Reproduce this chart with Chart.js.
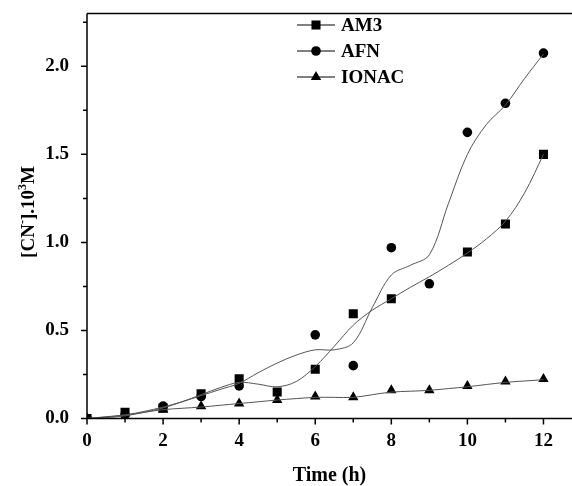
<!DOCTYPE html>
<html>
<head>
<meta charset="utf-8">
<script src="https://cdn.jsdelivr.net/npm/chart.js@4.4.1/dist/chart.umd.min.js"></script>
<style>
  html, body { margin: 0; padding: 0; background: #fff; }
</style>
</head>
<body>
<canvas id="cn-chart" width="572" height="486"></canvas>
<script>
// measured points (time in h, [CN-] x 10^3 M)
const time = [0, 1, 2, 3, 4, 5, 6, 7, 8, 9, 10, 11, 12];
const am3 = [0.00, 0.035, 0.06, 0.14, 0.225, 0.15, 0.28, 0.595, 0.68, null, 0.945, 1.105, 1.50];
const afn = [0.00, 0.02, 0.07, 0.125, 0.185, null, 0.475, 0.30, 0.97, 0.765, 1.625, 1.79, 2.075];
const ionac = [0.00, 0.01, 0.05, 0.07, 0.085, 0.105, 0.125, 0.12, 0.16, 0.16, 0.185, 0.21, 0.225];

// fitted curves every half hour
const curveTime = [0, 0.5, 1, 1.5, 2, 2.5, 3, 3.5, 4, 4.5, 5, 5.5, 6, 6.5, 7, 7.5, 8, 8.5, 9, 9.5, 10, 10.5, 11, 11.5, 12];
const am3Curve = [0, 0.005, 0.015, 0.035, 0.06, 0.095, 0.135, 0.175, 0.205, 0.195, 0.18, 0.21, 0.295, 0.41, 0.53, 0.615, 0.68, 0.745, 0.805, 0.87, 0.94, 1.02, 1.12, 1.28, 1.50];
const afnCurve = [0, 0.008, 0.02, 0.04, 0.065, 0.095, 0.13, 0.165, 0.20, 0.26, 0.315, 0.36, 0.39, 0.39, 0.43, 0.63, 0.815, 0.87, 0.93, 1.22, 1.50, 1.67, 1.78, 1.93, 2.07];
const ionacCurve = [0, 0.01, 0.02, 0.035, 0.05, 0.058, 0.065, 0.075, 0.085, 0.095, 0.105, 0.113, 0.12, 0.12, 0.12, 0.135, 0.15, 0.155, 0.16, 0.17, 0.18, 0.193, 0.205, 0.213, 0.22];

const seriesNames = ['AM3', 'AFN', 'IONAC'];

const FONT = "'Liberation Serif', 'Times New Roman', serif";
const LINE = '#555';

function toPoints(xs, ys) {
  return xs.map((x, i) => ({ x: x, y: ys[i] })).filter(p => p.y !== null);
}

function curve(ys) {
  return {
    data: toPoints(curveTime, ys),
    showLine: true,
    borderColor: LINE,
    borderWidth: 1,
    pointRadius: 0,
    tension: 0.35,
    fill: false
  };
}

function marks(label, ys, style, r) {
  return {
    label: label,
    data: toPoints(time, ys),
    showLine: false,
    pointStyle: style,
    pointRadius: r,
    pointBackgroundColor: '#000',
    pointBorderColor: '#000',
    pointBorderWidth: 0
  };
}

const markSets = [
  marks(seriesNames[0], am3, 'rect', 6.4),
  marks(seriesNames[1], afn, 'circle', 4.8),
  marks(seriesNames[2], ionac, 'triangle', 6)
];

// axes frame, tick marks, x tick labels, y title with superscripts and the legend
const framePlugin = {
  id: 'framePlugin',
  afterDraw(chart) {
    const { ctx, chartArea: a, scales: { x, y } } = chart;
    ctx.save();
    ctx.strokeStyle = '#000';
    ctx.lineWidth = 1.5;
    ctx.beginPath();
    ctx.moveTo(a.left, a.top);
    ctx.lineTo(a.right, a.top);
    ctx.moveTo(a.left, a.top);
    ctx.lineTo(a.left, a.bottom);
    ctx.lineTo(a.right, a.bottom);
    x.ticks.forEach(t => {
      const px = x.getPixelForValue(t.value);
      const len = t.value % 2 === 0 ? 6 : 4;
      ctx.moveTo(px, a.bottom);
      ctx.lineTo(px, a.bottom + len);
    });
    y.ticks.forEach(t => {
      const py = y.getPixelForValue(t.value);
      const len = Math.abs(t.value * 2 - Math.round(t.value * 2)) < 1e-6 ? 6 : 4;
      ctx.moveTo(a.left, py);
      ctx.lineTo(a.left - len, py);
    });
    ctx.stroke();

    ctx.fillStyle = '#000';
    ctx.font = 'bold 19px ' + FONT;
    ctx.textAlign = 'center';
    ctx.textBaseline = 'middle';
    x.ticks.forEach(t => {
      if (t.value % 2 === 0) ctx.fillText(String(t.value), x.getPixelForValue(t.value), a.bottom + 23);
    });

    // y axis title, rotated, with real superscripts
    const parts = [['[CN', false], ['-', true], ['].10', false], ['3', true], ['M', false]];
    const big = 'bold 19px ' + FONT, small = 'bold 12px ' + FONT;
    let total = 0;
    parts.forEach(p => { ctx.font = p[1] ? small : big; total += ctx.measureText(p[0]).width; });
    ctx.translate(27, 212);
    ctx.rotate(-Math.PI / 2);
    ctx.textAlign = 'left';
    ctx.textBaseline = 'alphabetic';
    let cx = -total / 2;
    parts.forEach(p => {
      ctx.font = p[1] ? small : big;
      ctx.fillText(p[0], cx, p[1] ? -1 : 7);
      cx += ctx.measureText(p[0]).width;
    });
    ctx.setTransform(1, 0, 0, 1, 0, 0);

    // legend
    const lx = 297, lw = 38, ty = [25, 51, 77];
    markSets.forEach((ds, i) => {
      const yy = ty[i];
      ctx.strokeStyle = '#000';
      ctx.lineWidth = 1;
      ctx.beginPath();
      ctx.moveTo(lx, yy);
      ctx.lineTo(lx + lw, yy);
      ctx.stroke();
      ctx.fillStyle = '#000';
      Chart.helpers.drawPoint(ctx, {
        pointStyle: ds.pointStyle,
        radius: ds.pointRadius,
        rotation: 0,
        borderWidth: 0
      }, lx + lw / 2, yy);
      ctx.font = 'bold 19px ' + FONT;
      ctx.textAlign = 'left';
      ctx.textBaseline = 'middle';
      ctx.fillText(ds.label, lx + lw + 6, yy + 1);
    });
    ctx.restore();
  }
};

const ctx = document.getElementById('cn-chart').getContext('2d');
new Chart(ctx, {
  type: 'scatter',
  data: {
    datasets: [curve(am3Curve), curve(afnCurve), curve(ionacCurve)].concat(markSets)
  },
  options: {
    responsive: false,
    animation: false,
    layout: { autoPadding: false, padding: { top: 13.5, right: 0, left: 0, bottom: 0 } },
    plugins: {
      legend: { display: false },
      tooltip: { enabled: false }
    },
    scales: {
      x: {
        type: 'linear',
        min: 0,
        max: 12.75,
        grid: { display: false },
        border: { display: false },
        afterFit(scale) { scale.height = 67.5; },
        ticks: {
          display: false,
          stepSize: 1,
          includeBounds: false,
          autoSkip: false
        },
        title: {
          display: true,
          text: 'Time (h)',
          color: '#000',
          padding: { top: 0, bottom: 0 },
          font: { family: FONT, size: 20, weight: 'bold', lineHeight: 1 }
        }
      },
      y: {
        type: 'linear',
        min: 0,
        max: 2.3,
        grid: { display: false },
        border: { display: false },
        afterFit(scale) {
          scale.width = 87;
          scale.paddingTop = 0;
          scale.paddingBottom = 0;
        },
        ticks: {
          stepSize: 0.25,
          includeBounds: false,
          autoSkip: false,
          padding: 10,
          color: '#000',
          font: { family: FONT, size: 19, weight: 'bold' },
          callback: v => (Math.abs(v * 2 - Math.round(v * 2)) < 1e-6 ? v.toFixed(1) : '')
        },
        title: { display: false }
      }
    }
  },
  plugins: [framePlugin]
});
</script>
</body>
</html>
